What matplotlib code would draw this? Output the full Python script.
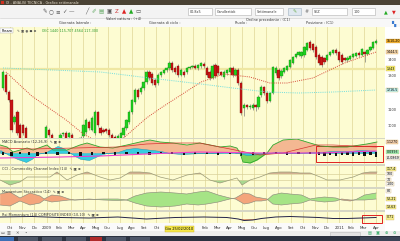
import numpy as np
import matplotlib
matplotlib.use("Agg")
import matplotlib.pyplot as plt
from matplotlib.patches import Rectangle

# ---------------- data (weekly candles, Oct 2008 -> Apr 2011) ----------------
opens = [1228, 1306, 1204, 1156, 1024, 1084, 1006, 1006, 988, 916,
         856, 886, 826, 868, 844, 916, 976, 946, 904, 868,
         916, 952, 958, 934, 946, 886, 826, 856, 940, 964,
         1024, 976, 958, 1084, 988, 976, 982, 976, 946, 934,
         928, 928, 946, 988, 1024, 1084, 1144, 1216, 1204, 1228,
         1264, 1324, 1312, 1276, 1258, 1306, 1318, 1336, 1348, 1378,
         1348, 1360, 1306, 1324, 1324, 1348, 1354, 1360, 1348, 1360,
         1372, 1348, 1324, 1288, 1366, 1360, 1324, 1294, 1318, 1324,
         1348, 1306, 1336, 1258, 1108, 1126, 1114, 1108, 1126, 1114,
         1186, 1234, 1198, 1150, 1198, 1318, 1336, 1300, 1324, 1336,
         1354, 1378, 1414, 1426, 1420, 1426, 1456, 1504, 1492, 1474,
         1426, 1414, 1408, 1396, 1426, 1438, 1456, 1444, 1426, 1408,
         1396, 1402, 1414, 1420, 1438, 1426, 1444, 1432, 1456, 1468,
         1498]
closes = [1324, 1204, 1156, 976, 1054, 958, 928, 958, 916, 856,
          886, 826, 868, 844, 916, 994, 946, 904, 868, 916,
          946, 958, 916, 958, 886, 826, 856, 928, 1006, 1036,
          988, 1048, 1084, 1006, 958, 964, 970, 946, 916, 928,
          940, 958, 988, 1036, 1084, 1156, 1216, 1174, 1228, 1264,
          1324, 1288, 1258, 1246, 1306, 1324, 1336, 1348, 1378, 1336,
          1324, 1306, 1336, 1306, 1348, 1354, 1360, 1348, 1366, 1378,
          1360, 1306, 1288, 1360, 1300, 1318, 1306, 1324, 1336, 1348,
          1306, 1336, 1258, 1078, 1126, 1114, 1120, 1126, 1114, 1174,
          1234, 1198, 1150, 1198, 1354, 1348, 1288, 1330, 1348, 1360,
          1396, 1414, 1432, 1444, 1444, 1474, 1498, 1468, 1456, 1414,
          1378, 1366, 1384, 1426, 1444, 1456, 1438, 1396, 1384, 1396,
          1408, 1420, 1432, 1438, 1426, 1462, 1432, 1456, 1474, 1504,
          1510]
highs = [1336, 1318, 1214, 1164, 1066, 1096, 1018, 1012, 1000, 930,
         900, 896, 880, 878, 924, 1006, 988, 956, 916, 928,
         956, 966, 970, 966, 958, 898, 868, 940, 1014, 1048,
         1036, 1058, 1096, 1092, 1000, 986, 990, 988, 958, 944,
         950, 966, 998, 1044, 1094, 1164, 1226, 1228, 1238, 1272,
         1334, 1336, 1322, 1288, 1316, 1332, 1344, 1356, 1388, 1390,
         1358, 1370, 1346, 1334, 1356, 1362, 1368, 1370, 1374, 1386,
         1382, 1358, 1334, 1370, 1378, 1368, 1332, 1334, 1344, 1356,
         1358, 1346, 1346, 1270, 1138, 1134, 1130, 1136, 1134, 1184,
         1244, 1242, 1208, 1206, 1362, 1358, 1346, 1340, 1356, 1368,
         1404, 1422, 1440, 1452, 1452, 1482, 1506, 1514, 1500, 1484,
         1436, 1424, 1416, 1434, 1452, 1464, 1466, 1452, 1436, 1416,
         1418, 1428, 1440, 1446, 1448, 1470, 1452, 1464, 1482, 1512,
         1520]
lows = [1216, 1192, 1146, 962, 1012, 946, 916, 948, 904, 844,
        846, 814, 816, 832, 836, 904, 936, 894, 856, 860,
        906, 942, 904, 924, 874, 812, 816, 846, 930, 952,
        976, 968, 948, 994, 948, 956, 960, 936, 906, 918,
        920, 918, 936, 978, 1014, 1074, 1132, 1164, 1194, 1218,
        1254, 1278, 1248, 1236, 1248, 1296, 1310, 1326, 1338, 1326,
        1314, 1294, 1298, 1296, 1314, 1340, 1346, 1340, 1338, 1350,
        1350, 1296, 1278, 1280, 1290, 1308, 1298, 1284, 1308, 1316,
        1296, 1298, 1248, 1064, 1062, 1104, 1100, 1098, 1090, 1104,
        1176, 1188, 1140, 1142, 1190, 1308, 1278, 1290, 1316, 1328,
        1346, 1370, 1406, 1418, 1410, 1416, 1448, 1458, 1446, 1404,
        1368, 1356, 1374, 1388, 1418, 1430, 1428, 1386, 1374, 1388,
        1386, 1394, 1406, 1412, 1416, 1418, 1384, 1424, 1448, 1460,
        1490]

# moving averages (week index, value)
ma_short_weeks = [1, 10, 22, 28, 35, 42, 50, 55, 62, 69, 77, 86, 93, 99, 108, 119, 130]
ma_short_vals = [1324, 1180, 1036, 952, 886, 928, 1048, 1108, 1186, 1264, 1312, 1294,
                 1258, 1258, 1288, 1378, 1444]
ma_long_weeks = [0, 34, 51, 69, 80, 92, 103, 115, 130]
ma_long_vals = [1348, 1324, 1288, 1252, 1228, 1204, 1198, 1204, 1216]
level_line = 1343
price_ticks = [1000, 1100, 1300, 1400]

# panel 2 - MACD-style oscillator
osc_weeks = [-1, 1.4, 3.5, 6, 8.4, 10.5, 15.3, 17.4, 22.3, 26.8, 29.3, 33.8, 38.3, 43.2,
             47.7, 51.2, 54.7, 59.2, 64.1, 68.6, 72.1, 75.6, 79.1, 81.5, 82.6, 83.6, 86.1,
             88.5, 92, 94.1, 97.6, 102.4, 107, 110.5, 115, 119.9, 124.4, 126.8, 130.3]
osc_vals = [8, 6, 1, 3, 5, 3, 8, 3, 3, 8, 10, 6, 5, 8, 11, 13, 11, 10, 8, 10, 8, 6, 7, 5,
            0, -9, -10, -7, 0, 8, 13, 14, 10, 7, 6, 6, 8, 9, 11]
sig_weeks = [-1, 10, 25, 40, 50, 60, 68.6, 82.6, 89.5, 97.6, 109, 115, 130.3]
sig_vals = [5, 4, 5, 6, 9, 10, 10, 2, -2, 0, 8, 8, 6]
cy_weeks = [-1, 2, 5, 8, 10, 12, 15, 17, 19, 21, 23, 25, 27, 30, 33, 36, 40, 43, 46, 49,
            52, 55, 58, 62, 70, 80, 85, 90, 95, 100, 110, 115, 120, 125, 130]
cy_vals = [3, -2, -6, -9, -6, -1, 1, 4, 7, 5, 1, -3, -6, -7, -3, 0, 1, 4, 5, 4,
           3, 2, 0, -1, 0, 1, -2, -1, 1, 0, 1, 2, 2, 3, 2]
mag_weeks = [-1, 20, 34, 50, 68, 90, 110, 130]
mag_vals = [-5, -4, -3, -1, 1, 0, 0, 2]
bar_weeks = [0, 3, 6, 9, 12, 15, 19, 23, 27, 31, 35, 39, 43, 47, 51, 55, 59, 63, 67, 71,
             75, 79, 83, 87, 91, 95, 99, 103, 107, 110, 112, 114, 116, 118, 120, 122,
             124, 126, 128, 130]
bar_vals = [-2, -3, -1, -2, -3, -1, -2, -1, -3, -2, -1, -2, -1, -1, -2, -1, -1, -2, -1, -1,
            -2, -1, -3, -2, -1, -1, -2, -1, -1, -2, -3, -2, -3, -2, -2, -3, -2, -3, -2, -4]

# panel 3 - CCI
cci_weeks = [-1, 2.4, 5.9, 8.4, 12.9, 16.4, 18.8, 22.3, 25.8, 29.3, 33.8, 37.3, 40.8, 44.3,
             47.7, 51.2, 54.7, 59.2, 64.1, 68.6, 72.1, 75.6, 79.1, 81.5, 83.3, 86.1, 89.5,
             93, 96.5, 100, 103.5, 107, 110.5, 112.9, 117.4, 122, 125.4, 127.9, 130.3]
cci_vals = [7, 2, 5, 10, 10, 10, 15, 7, 12, 15, 10, 7, 9, 15, 15, 14, 10, 7, 12, 14,
            7, 4, 7, 9, 2, 7, 10, 14, 15, 15, 14, 14, 10, 7, 7, 10, 14, 15, 15]
cci_upper, cci_lower = 13, 7

# panel 4 - two stochastic lines
sto_weeks = [-1, 2.4, 5.9, 9.4, 12.9, 14.3, 17, 20, 23, 25, 30, 35, 40, 43, 46, 50, 55, 60,
             64, 68, 71, 75, 79, 81, 84, 86, 88, 90, 92, 94, 97, 100, 104, 107, 109, 112,
             116, 118, 121, 123, 126, 130]
sto_a = [16, 18, 12, 17, 14, 11, 15, 14, 11, 10, 11, 10, 9.5, 10, 7, 4, 3, 4, 6, 5, 6, 8,
         11, 12, 17, 16, 13, 12, 11, 6, 5, 6, 7, 10, 9, 8, 9, 11, 10, 10, 10, 11]
sto_b = [5, 4, 9, 5, 7, 10, 8, 9, 10, 10, 10.5, 11, 11, 10, 14, 17, 18, 17, 16, 18, 19, 15,
         12, 11, 6, 7, 9, 9, 10, 15, 17, 16, 15, 11, 12, 13, 12, 10, 9, 10.5, 15, 17]

# panel 5 - momentum composite
rsi_weeks = [-1, 10, 20, 30, 40, 45, 50, 60, 70, 78, 82, 84, 87, 90, 95, 100, 105, 110,
             115, 120, 125, 130]
rsi_vals = [6, 6.5, 5.5, 5, 6, 5, 4, 5.5, 6, 5.5, 4, 2.5, 3, 4.5, 6, 6.5, 6, 5.5, 4.5,
            4.5, 5, 5.5]

month_labels = ["Ott", "Nov", "Dic", "2009", "Feb", "Mar", "Apr", "Mag", "Giu", "Lug",
                "Ago", "Set", "Ott", "Nov", "Dic", "2010", "Feb", "Mar", "Apr", "Mag",
                "Giu", "Lug", "Ago", "Set", "Ott", "Nov", "Dic", "2011", "Feb", "Mar", "Apr"]
cursor_week = 61.5
cursor_text = "Gio 25/02/2010"

# ---------------- layout helpers ----------------
W, H = 400, 241
PANEL_BG = "#fdfcd2"
GRID = "#e4dca0"
XMIN, XMAX = -1.05, 133.1
month_pos = 2.44 + 4.25 * np.arange(len(month_labels))

fig = plt.figure(figsize=(W / 100, H / 100), dpi=100)


def px_axes(x0, y0, x1, y1):
    return fig.add_axes([x0 / W, 1 - y1 / H, (x1 - x0) / W, (y1 - y0) / H])


bg = fig.add_axes([0, 0, 1, 1])
bg.set_xlim(0, W)
bg.set_ylim(H, 0)
bg.axis("off")


def box(x, y, w, h, fc, ec="none", lw=0.4):
    bg.add_patch(Rectangle((x, y), w, h, facecolor=fc, edgecolor=ec, linewidth=lw))


# window chrome
box(0, 0, W, 5, "#4a4234")
box(1, 1, 3, 3, "#d03020")
bg.text(6, 2.6, "IX - ANALISI TECNICA - Grafico settimanale", fontsize=2.4, color="#e8e0d0", va="center")
box(0, 5, W, 13, "#f3f3f3")
bg.plot([0, W], [18, 18], color="#cccccc", lw=0.4)
icons = [(45, "✎", "#555"), (51, "○", "#555"), (58, "≡", "#555"), (64, "✓", "#555"),
         (71, "—", "#555"), (87, "╱", "#555"), (94, "✐", "#6a6"), (101, "▤", "#6a6"),
         (109, "▣", "#555"), (117, "Z", "#c33"), (124, "▲", "#d22"), (131, "▲", "#2a2"),
         (138, "▭", "#555")]
for x, g, c in icons:
    bg.text(x, 11.5, g, fontsize=4, color=c, ha="center", va="center")
for x0, w, t in [(188, 24, "00.8x5"), (215, 36, "Candlestick"), (255, 28, "Settimanale"),
                 (312, 35, "SEZ"), (352, 23, "100")]:
    box(x0, 8, w, 7, "white", ec="#b0b0b0")
    bg.text(x0 + 2, 11.6, t, fontsize=2.4, color="#333", va="center")
box(288, 8, 13, 7, "#dfe8f0", ec="#a0b0c0")
bg.text(294.5, 11.6, "✎", fontsize=3.5, color="#6a4", ha="center", va="center")
bg.text(307, 11.6, "#", fontsize=3.5, color="#777", ha="center", va="center")
bg.text(386, 11.6, "▲", fontsize=3.5, color="#2a2", ha="center", va="center")
bg.text(394, 11.6, "▼", fontsize=3.5, color="#d22", ha="center", va="center")

box(0, 18, W, 9, "#f8f8f8")
for x, y, t in [(75, 23, "Giornata laterale :"), (124, 19.5, "Valori cattura : (+4)"),
                (165, 23, "Giornata di ciclo :"), (268, 19.5, "Ordine precedente : (C1)"),
                (241, 23, "Ruolo :"), (320, 23, "Posizione : (C1)")]:
    bg.text(x, y, t, fontsize=2.5, color="#333", ha="center", va="center")
bg.text(393, 24, "▚", fontsize=4, color="#3a7ad0", ha="center", va="center")

box(0, 27, W, 204, "white")
box(0, 27, 385, 196, "#d6d6c4")
box(0, 223, 385, 8, "#fafafa")
box(0, 231, W, 5, "#eeeeee")
for x, g in [(3, "▭"), (9, "▥"), (17, "✕"), (26, "•")]:
    bg.text(x, 233.5, g, fontsize=3, color="#555", ha="center", va="center")
box(330, 232, 30, 3.5, "#e2e2e2", ec="#bbbbbb")
for x, g in [(370, "▤"), (378, "▣"), (386, "⊕"), (394, "⊖")]:
    bg.text(x, 233.5, g, fontsize=3, color="#3a6", ha="center", va="center")
box(0, 236, W, 5, "#2b3240")
for x0, w, c in [(0, 14, "#3d6fb5"), (18, 20, "#4d5668"), (42, 20, "#4d5668"),
                 (66, 20, "#4d5668"), (90, 12, "#b02a2a"), (106, 20, "#4d5668"),
                 (130, 20, "#4d5668"), (360, 40, "#3a4356")]:
    box(x0, 236.6, w, 4, c)


def style_panel(ax, ylo, yhi):
    ax.set_facecolor(PANEL_BG)
    ax.set_xlim(XMIN, XMAX)
    ax.set_ylim(ylo, yhi)
    for s in ax.spines.values():
        s.set_visible(False)
    ax.set_xticks(month_pos)
    ax.grid(axis="x", color=GRID, lw=0.6)
    ax.set_axisbelow(True)
    ax.tick_params(labelbottom=False, labelleft=False, length=0)
    ax.set_yticks([])


def right_label(ax, v, text, fc):
    ax.text(1.004, v, text, transform=ax.get_yaxis_transform(), fontsize=2.3,
            va="center", ha="left", clip_on=False,
            bbox=dict(boxstyle="square,pad=0.12", fc=fc, ec="#c8a040", lw=0.2))


def panel_title(ax, text):
    ax.text(0.004, 0.97, text + "  ✎ ▣ ⊗", transform=ax.transAxes, fontsize=2.5,
            color="#333", va="top", ha="left")


# ---------------- main price panel ----------------
ax1 = px_axes(0, 27, 385, 138)
style_panel(ax1, 928, 1594)
weeks = np.arange(len(closes))
o = np.array(opens)
c = np.array(closes)
up = c >= o
body_lo = np.minimum(o, c)
body_h = np.maximum(np.abs(c - o), 3)
ax1.axhline(level_line, color="#efe7a2", lw=1.6, zorder=1)
ax1.vlines(weeks, lows, highs, color="#606060", lw=0.4, zorder=2)
ax1.bar(weeks, body_h, bottom=body_lo, width=0.8,
        color=np.where(up, "#1fd01f", "#c81414"),
        edgecolor=np.where(up, "#118811", "#7a0c0c"), lw=0.25, zorder=3)
ax1.plot(ma_short_weeks, ma_short_vals, color="#d64a3a", lw=0.7, ls=(0, (1, 1.2)), zorder=4)
ax1.plot(ma_long_weeks, ma_long_vals, color="#6fdede", lw=0.7, ls=(0, (1, 1.2)), zorder=4)
ax1.yaxis.tick_right()
ax1.set_yticks(price_ticks)
ax1.tick_params(axis="y", labelright=True, labelsize=2.5, pad=2, colors="#333")
ax1.text(0.003, 0.985, "Prezzo", transform=ax1.transAxes, fontsize=2.4, va="top",
         bbox=dict(boxstyle="square,pad=0.2", fc="white", ec="#aaaaaa", lw=0.3))
ax1.text(0.045, 0.985, "✎ ▣ ◉ ● ⊗", transform=ax1.transAxes, fontsize=2.4, va="top", color="#444")
ax1.text(0.11, 0.985, "IXIC 1440 115,707 4564 117,300", transform=ax1.transAxes,
         fontsize=2.4, va="top", color="#2a9a2a")
right_label(ax1, closes[-1], f"{closes[-1]},20", "#f4b030")
right_label(ax1, ma_short_vals[-1], f"{ma_short_vals[-1]},5", "#f8d8b0")
right_label(ax1, level_line, f"{level_line}", "#f4ee70")
right_label(ax1, ma_long_vals[-1], f"{ma_long_vals[-1]},5", "#bff2f2")

# ---------------- panel 2 ----------------
ax2 = px_axes(0, 139, 385, 164)
style_panel(ax2, -11, 14)
ov = np.array(osc_vals, dtype=float)
ax2.fill_between(osc_weeks, ov, 0, where=ov >= 0, interpolate=True, color="#f4b892", lw=0)
ax2.fill_between(osc_weeks, ov, 0, where=ov < 0, interpolate=True, color="#7fd65a", lw=0)
ax2.fill_between(cy_weeks, cy_vals, 0, color="#35cde0", lw=0.3, edgecolor="#1c8fb0")
ax2.bar(bar_weeks, np.array(bar_vals) - 1, bottom=1, width=0.8, color="#111111")
ax2.plot(osc_weeks, osc_vals, color="#2ea82e", lw=0.6)
ax2.plot(sig_weeks, sig_vals, color="#d83030", lw=0.5)
ax2.plot(mag_weeks, mag_vals, color="#ee3fcf", lw=0.8)
panel_title(ax2, "MACD Avanzato (12,26,9)")
right_label(ax2, osc_vals[-1], "1,1270", "#f8d4b4")
right_label(ax2, mag_vals[-1] - 1, "0,0993", "#9ff0b8")
right_label(ax2, -5, "-0,0869", "#eeeeee")
ax2.add_patch(Rectangle((109, -9), 23.5, 16, fill=False, ec="#e02020", lw=0.7, clip_on=False))

# ---------------- panel 3 ----------------
ax3 = px_axes(0, 166, 385, 187)
style_panel(ax3, 0, 21)
cv = np.array(cci_vals, dtype=float)
ax3.axhline(cci_upper, color="#d8d09a", lw=0.5)
ax3.axhline(cci_lower, color="#d8d09a", lw=0.5)
ax3.fill_between(cci_weeks, cv, cci_upper, where=cv >= cci_upper, interpolate=True,
                 color="#d2b090", lw=0)
ax3.fill_between(cci_weeks, cv, cci_lower, where=cv <= cci_lower, interpolate=True,
                 color="#a8d890", lw=0)
ax3.plot(cci_weeks, cci_vals, color="#9a9a78", lw=0.5)
panel_title(ax3, "CCI - Commodity Channel Index (14)")
right_label(ax3, 18, "117,4", "#f4ee90")
right_label(ax3, cci_upper, "100", "#f6f6f6")
right_label(ax3, cci_lower, "70", "#f6f6f6")
right_label(ax3, 3, "-100", "#f6f6f6")

# ---------------- panel 4 ----------------
ax4 = px_axes(0, 189, 385, 210)
style_panel(ax4, 0, 21)
sa = np.array(sto_a, dtype=float)
sb = np.array(sto_b, dtype=float)
ax4.fill_between(sto_weeks, sa, sb, where=sa >= sb, interpolate=True, color="#f4a57c", lw=0)
ax4.fill_between(sto_weeks, sa, sb, where=sa < sb, interpolate=True, color="#a6e486", lw=0)
ax4.plot(sto_weeks, sto_a, color="#8c8c7c", lw=0.45)
ax4.plot(sto_weeks, sto_b, color="#8c8c7c", lw=0.45)
panel_title(ax4, "Momentum Stocastico (14)")
right_label(ax4, 19, "80", "#f6f6f6")
right_label(ax4, sto_a[-1], "52,21", "#f4ee90")
right_label(ax4, 3, "13,63", "#f4ee90")

# ---------------- panel 5 ----------------
ax5 = px_axes(0, 212, 385, 223)
style_panel(ax5, 0, 11)
rv = np.array(rsi_vals, dtype=float)
ax5.fill_between(rsi_weeks, rv, 4, where=rv <= 4, interpolate=True, color="#e8a070", lw=0)
ax5.plot(rsi_weeks, rsi_vals, color="#23234a", lw=0.7)
panel_title(ax5, "Rsi Momentum (14) COMPOSITE INDEX (10,10)")
right_label(ax5, rsi_vals[-1], "0,71", "#f4ee90")
ax5.add_patch(Rectangle((125, 0.5), 7.2, 8, fill=False, ec="#e02020", lw=0.7, clip_on=False))
ax5.set_xticklabels(month_labels)
ax5.tick_params(axis="x", labelbottom=True, labelsize=2.8, pad=2.2, colors="#333")
# the cursor date box hides the month labels underneath it
for pos, lab in zip(month_pos, ax5.get_xticklabels()):
    if abs(pos - cursor_week) < 5:
        lab.set_visible(False)
ax5.text(cursor_week, -0.55, cursor_text, transform=ax5.get_xaxis_transform(), fontsize=2.6,
         ha="center", va="center", clip_on=False,
         bbox=dict(boxstyle="square,pad=0.2", fc="#f6e84a", ec="#c8b020", lw=0.3))

fig.savefig("out.png", dpi=100)
